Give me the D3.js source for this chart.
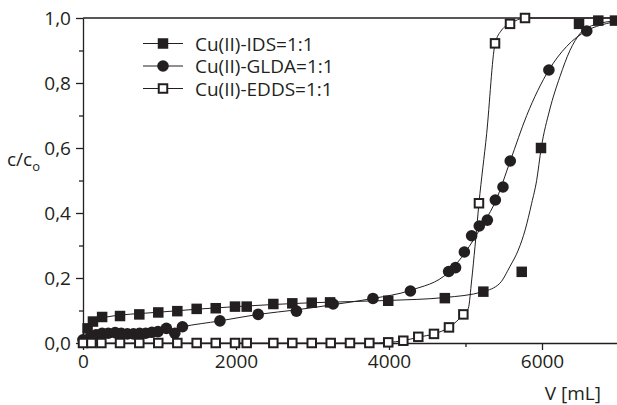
<!DOCTYPE html>
<html lang="en">
<head>
<meta charset="UTF-8">
<title>c/co breakthrough curves</title>
<script src="https://d3js.org/d3.v7.min.js"></script>
<style>
  html, body { margin: 0; padding: 0; background: #fff; }
  svg text { font-family: 'Open Sans', 'Noto Sans', sans-serif; fill: #231f20; }
</style>
</head>
<body>
<div id="chart"></div>
<script>
// measured points, V in mL, c/co
var idsPoints = [[60,0.045],[130,0.066],[250,0.08],[484,0.083],[736,0.088],[984,0.094],[1233,0.098],[1486,0.105],[1735,0.107],[1987,0.112],[2140,0.112],[2488,0.12],[2736,0.122],[2990,0.124],[3230,0.125],[3990,0.13],[4730,0.138],[5233,0.158],[5735,0.219],[5987,0.6],[6484,0.982],[6736,0.992],[6954,0.992]];
var gldaPoints = [[0,0.01],[100,0.02],[170,0.025],[250,0.03],[330,0.03],[420,0.032],[500,0.03],[580,0.028],[660,0.028],[740,0.03],[820,0.03],[900,0.033],[980,0.035],[1090,0.045],[1200,0.03],[1300,0.05],[1790,0.068],[2290,0.088],[2790,0.098],[3270,0.12],[3790,0.137],[4280,0.16],[4780,0.22],[4870,0.232],[4985,0.28],[5080,0.33],[5180,0.36],[5285,0.378],[5390,0.44],[5490,0.48],[5585,0.56],[6090,0.84],[6585,0.96]];
var eddsPoints = [[0,0],[110,0],[240,0],[484,0],[736,0],[984,0],[1233,0],[1486,0],[1735,0],[1987,0],[2140,0],[2488,0],[2736,0],[2990,0],[3238,0],[3490,0],[3743,0],[3990,0.002],[4187,0.007],[4383,0.019],[4588,0.028],[4784,0.048],[4972,0.088],[5176,0.43],[5386,0.922],[5582,0.982],[5778,1.0]];

// fitted curves
var idsFit = [[70,0.048],[250,0.078],[1000,0.095],[2000,0.112],[3000,0.124],[4000,0.131],[4730,0.14],[5230,0.158],[5450,0.184],[5580,0.235],[5690,0.286],[5780,0.348],[5865,0.43],[5930,0.5],[5990,0.6],[6100,0.717],[6235,0.82],[6365,0.9],[6500,0.953],[6670,0.978],[7000,0.992]];
var gldaFit = [[0,0.01],[100,0.022],[300,0.03],[1000,0.033],[1300,0.05],[1790,0.068],[2290,0.088],[2790,0.102],[3270,0.118],[3790,0.137],[4280,0.162],[4780,0.218],[5000,0.28],[5200,0.355],[5400,0.44],[5585,0.56],[5800,0.7],[6090,0.84],[6320,0.912],[6585,0.961],[6845,0.983],[7000,0.99]];
var eddsFit = [[0,0],[3743,0],[3990,0.002],[4187,0.007],[4383,0.018],[4588,0.028],[4784,0.048],[4972,0.088],[5037,0.107],[5081,0.194],[5124,0.296],[5176,0.43],[5277,0.645],[5386,0.92],[5473,0.963],[5582,0.982],[5778,1.0],[7000,1.0]];

var seriesNames = ['Cu(II)-IDS=1:1', 'Cu(II)-GLDA=1:1', 'Cu(II)-EDDS=1:1'];
var xTicks = [0, 2000, 4000, 6000];
var xMinor = [1000, 3000, 5000];
var yTicks = [0, 0.2, 0.4, 0.6, 0.8, 1.0];
var yMinor = [0.1, 0.3, 0.5, 0.7, 0.9];

var W = 617, H = 405;
var ink = '#231f20';
var fs = 19;

var svg = d3.select('#chart').append('svg')
    .attr('width', W)
    .attr('height', H);

var x = d3.scaleLinear().domain([0, 7000]).range([83, 618.5]);
var y = d3.scaleLinear().domain([0, 1]).range([343, 18]);

// minor ticks
svg.append('g')
    .attr('transform', 'translate(0,343)')
    .call(d3.axisBottom(x).tickValues(xMinor).tickSize(4).tickSizeOuter(0).tickFormat(''))
    .call(function(g) { g.select('.domain').remove(); })
    .selectAll('line').attr('stroke', ink).attr('stroke-width', 1.3);
svg.append('g')
    .attr('transform', 'translate(83,0)')
    .call(d3.axisLeft(y).tickValues(yMinor).tickSize(4).tickSizeOuter(0).tickFormat(''))
    .call(function(g) { g.select('.domain').remove(); })
    .selectAll('line').attr('stroke', ink).attr('stroke-width', 1.3);

var comma = function(d) { return d3.format('.1f')(d).replace('.', ','); };

var xAxis = svg.append('g')
    .attr('transform', 'translate(0,343)')
    .call(d3.axisBottom(x).tickValues(xTicks).tickSize(7).tickSizeOuter(0).tickPadding(5).tickFormat(d3.format('d')));
var yAxis = svg.append('g')
    .attr('transform', 'translate(83,0)')
    .call(d3.axisLeft(y).tickValues(yTicks).tickSize(7).tickSizeOuter(0).tickPadding(5).tickFormat(comma));

[xAxis, yAxis].forEach(function(a) {
    a.select('.domain').attr('stroke', ink).attr('stroke-width', 1.3);
    a.selectAll('line').attr('stroke', ink).attr('stroke-width', 1.3);
    a.selectAll('text').attr('font-size', fs).attr('font-family', "'Open Sans', sans-serif").attr('fill', ink);
});

// top frame line
svg.append('line')
    .attr('x1', x(0)).attr('x2', x(7000))
    .attr('y1', y(1)).attr('y2', y(1))
    .attr('stroke', ink).attr('stroke-width', 1.3);

// axis titles
var yt = svg.append('text').attr('x', 7).attr('y', 166).attr('font-size', fs);
yt.append('tspan').text('c/c');
yt.append('tspan').attr('font-size', 13).attr('dy', 5).text('o');

svg.append('text')
    .attr('x', 601).attr('y', 400)
    .attr('text-anchor', 'end')
    .attr('font-size', fs)
    .text('V [mL]');

// curves
var line = d3.line()
    .x(function(d) { return x(d[0]); })
    .y(function(d) { return y(d[1]); })
    .curve(d3.curveMonotoneX);

[idsFit, gldaFit, eddsFit].forEach(function(f) {
    svg.append('path')
        .datum(f)
        .attr('d', line)
        .attr('fill', 'none')
        .attr('stroke', ink)
        .attr('stroke-width', 1);
});

function drawSquare(g, cx, cy, filled) {
    var s = filled ? 10.5 : 8.5;
    g.append('rect')
        .attr('x', cx - s / 2).attr('y', cy - s / 2)
        .attr('width', s).attr('height', s)
        .attr('fill', filled ? ink : '#fff')
        .attr('stroke', ink)
        .attr('stroke-width', filled ? 0 : 2);
}

var marks = svg.append('g');
idsPoints.forEach(function(d) { drawSquare(marks, x(d[0]), y(d[1]), true); });
gldaPoints.forEach(function(d) {
    marks.append('circle')
        .attr('cx', x(d[0])).attr('cy', y(d[1]))
        .attr('r', 5.8)
        .attr('fill', ink);
});
eddsPoints.forEach(function(d) { drawSquare(marks, x(d[0]), y(d[1]), false); });

// legend
var legend = svg.append('g');
var legY = [43.5, 66, 88.5];
seriesNames.forEach(function(name, i) {
    var ly = legY[i];
    legend.append('line')
        .attr('x1', 143).attr('x2', 183)
        .attr('y1', ly).attr('y2', ly)
        .attr('stroke', ink).attr('stroke-width', 1);
    if (i === 0) drawSquare(legend, 163, ly, true);
    if (i === 1) legend.append('circle').attr('cx', 163).attr('cy', ly).attr('r', 5.8).attr('fill', ink);
    if (i === 2) drawSquare(legend, 163, ly, false);
    legend.append('text')
        .attr('x', 195).attr('y', ly + 7)
        .attr('font-size', fs)
        .text(name);
});
</script>
</body>
</html>
